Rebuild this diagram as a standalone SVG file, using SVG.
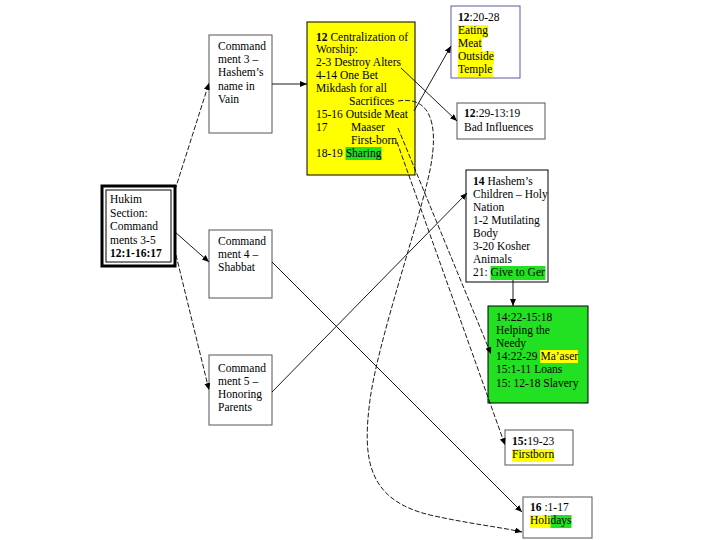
<svg xmlns="http://www.w3.org/2000/svg" width="720" height="540" viewBox="0 0 720 540">
<defs>
<marker id="ah" markerWidth="8" markerHeight="8" refX="7" refY="3" orient="auto" markerUnits="userSpaceOnUse">
<path d="M0,0 L7,3 L0,6 Z" fill="#000"/>
</marker>
<style>
text{font-family:"Liberation Serif","Times New Roman",serif;font-size:11.5px;fill:#000}
.b{font-weight:bold}
.box{fill:#fff;stroke:#555;stroke-width:1}
.c{fill:none;stroke:#000;stroke-width:0.9;marker-end:url(#ah)}
.d{stroke-dasharray:5 2}
.hy{fill:#ffff00}
.hg{fill:#22e022}
</style>
</defs>
<rect width="720" height="540" fill="#fff"/>

<g id="hukim">
<rect x="102" y="186" width="73" height="80" fill="#fff" stroke="#000" stroke-width="3"/>
<rect x="106" y="190" width="65" height="72" fill="none" stroke="#000" stroke-width="1"/>
<text x="110" y="203">Hukim</text>
<text x="110" y="217">Section:</text>
<text x="110" y="230">Command</text>
<text x="110" y="244">ments 3-5</text>
<text x="110" y="257" class="b">12:1-16:17</text>
</g>

<g id="cmd3">
<rect class="box" x="209" y="35" width="63" height="98"/>
<text x="218" y="50">Command</text>
<text x="218" y="63">ment 3 –</text>
<text x="218" y="76">Hashem’s</text>
<text x="218" y="90">name in</text>
<text x="218" y="103">Vain</text>
</g>

<g id="cmd4">
<rect class="box" x="209" y="230" width="63" height="68"/>
<text x="218" y="245">Command</text>
<text x="218" y="258">ment 4 –</text>
<text x="218" y="271">Shabbat</text>
</g>

<g id="cmd5">
<rect class="box" x="209" y="355" width="63" height="70"/>
<text x="218" y="372">Command</text>
<text x="218" y="385">ment 5 –</text>
<text x="218" y="398">Honoring</text>
<text x="218" y="411">Parents</text>
</g>

<g id="ch12">
<rect x="307" y="22" width="108" height="153" fill="#ffff00" stroke="#000" stroke-width="1"/>
<rect class="hg" x="345.5" y="147" width="36" height="13"/>
<text x="316" y="41"><tspan class="b">12</tspan> Centralization of</text>
<text x="316" y="53">Worship:</text>
<text x="316" y="66">2-3 Destroy Alters</text>
<text x="316" y="79">4-14 One Bet</text>
<text x="316" y="92">Mikdash for all</text>
<text x="349" y="105">Sacrifices</text>
<text x="316" y="118">15-16 Outside Meat</text>
<text x="316" y="131">17</text>
<text x="351" y="131">Maaser</text>
<text x="351" y="144">First-born</text>
<text x="316" y="157">18-19 Sharing</text>
</g>

<g id="eating">
<rect x="451" y="6" width="69" height="72" fill="#fff" stroke="#5a5aa0" stroke-width="1"/>
<rect class="hy" x="458" y="25" width="30" height="13"/>
<rect class="hy" x="458" y="38" width="24" height="13"/>
<rect class="hy" x="458" y="51" width="36" height="13"/>
<rect class="hy" x="458" y="64" width="35" height="13"/>
<text x="458" y="21"><tspan class="b">12</tspan>:20-28</text>
<text x="458" y="34">Eating</text>
<text x="458" y="47">Meat</text>
<text x="458" y="60">Outside</text>
<text x="458" y="73">Temple</text>
</g>

<g id="bad">
<rect class="box" x="457" y="103" width="88" height="36"/>
<text x="464" y="117"><tspan class="b">12</tspan>:29-13:19</text>
<text x="464" y="131">Bad Influences</text>
</g>

<g id="ch14">
<rect x="466" y="170" width="82" height="112" fill="#fff" stroke="#000" stroke-width="1"/>
<rect class="hg" x="490.5" y="266" width="55" height="14"/>
<text x="473" y="185"><tspan class="b">14</tspan> Hashem’s</text>
<text x="473" y="198">Children – Holy</text>
<text x="473" y="211">Nation</text>
<text x="473" y="224">1-2 Mutilating</text>
<text x="473" y="237">Body</text>
<text x="473" y="250">3-20 Kosher</text>
<text x="473" y="263">Animals</text>
<text x="473" y="276">21: Give to Ger</text>
</g>

<g id="needy">
<rect x="488" y="306" width="100" height="97" fill="#22e022" stroke="#000" stroke-width="1"/>
<rect class="hy" x="540" y="350" width="38" height="13"/>
<text x="496" y="321">14:22-15:18</text>
<text x="496" y="334">Helping the</text>
<text x="496" y="347">Needy</text>
<text x="496" y="360">14:22-29 Ma’aser</text>
<text x="496" y="373">15:1-11 Loans</text>
<text x="496" y="387">15: 12-18 Slavery</text>
</g>

<g id="firstborn">
<rect class="box" x="505" y="430" width="68" height="35"/>
<rect class="hy" x="512" y="449" width="42" height="13"/>
<text x="512" y="445"><tspan class="b">15:</tspan>19-23</text>
<text x="512" y="458">Firstborn</text>
</g>

<g id="holidays">
<rect class="box" x="523" y="497" width="69" height="41"/>
<rect class="hy" x="530" y="515" width="20.5" height="13"/>
<rect class="hg" x="550.5" y="515" width="21" height="13"/>
<text x="530" y="511"><tspan class="b">16</tspan> :1-17</text>
<text x="530" y="524">Holidays</text>
</g>

<g id="connectors">
<path class="c d" d="M175,190 L209,83"/>
<path class="c" d="M175,232 L209,262"/>
<path class="c d" d="M176,255 L209,390"/>
<path class="c" d="M272,84 L307,84"/>
<path class="c" d="M401,68 L457,121"/>
<path class="c" d="M414,111 L451,46"/>
<path class="c d" d="M398,101 C428,96 440,120 430,170 C420,220 378,340 370,400 C362,460 368,500 430,515 C470,524 500,527 522,532"/>
<path class="c d" d="M398,128 L491,354"/>
<path class="c d" d="M397,142 L505,445"/>
<path class="c" d="M513,280 L513,306"/>
<path class="c" d="M272,262 L522,512"/>
<path class="c" d="M272,392 L467,193"/>
</g>
</svg>
